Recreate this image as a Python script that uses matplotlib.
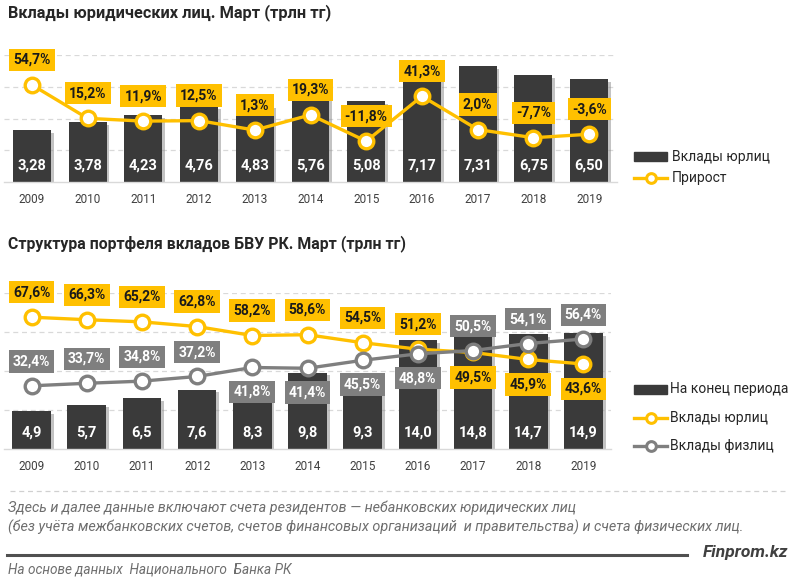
import matplotlib
matplotlib.use("Agg")
import matplotlib.pyplot as plt
from matplotlib.lines import Line2D
from matplotlib.patches import Rectangle
import matplotlib.patheffects as pe

plt.rcParams['font.family'] = ['Roboto', 'DejaVu Sans']

# ---------------- data ----------------
years = ['2009', '2010', '2011', '2012', '2013', '2014', '2015', '2016', '2017', '2018', '2019']
legal_deposits = [3.28, 3.78, 4.23, 4.76, 4.83, 5.76, 5.08, 7.17, 7.31, 6.75, 6.50]
growth = [54.7, 15.2, 11.9, 12.5, 1.3, 19.3, -11.8, 41.3, 2.0, -7.7, -3.6]
portfolio_total = [4.9, 5.7, 6.5, 7.6, 8.3, 9.8, 9.3, 14.0, 14.8, 14.7, 14.9]
share_legal = [67.6, 66.3, 65.2, 62.8, 58.2, 58.6, 54.5, 51.2, 49.5, 45.9, 43.6]
share_individual = [32.4, 33.7, 34.8, 37.2, 41.8, 41.4, 45.5, 48.8, 50.5, 54.1, 56.4]

# label placement (+1 above the point, -1 below)
legal_side = [1, 1, 1, 1, 1, 1, 1, 1, -1, -1, -1]
indiv_side = [1, 1, 1, 1, -1, -1, -1, -1, 1, 1, 1]

BAR = '#3A3A3A'
YEL = '#FFC000'
GRY = '#7F7F7F'
GRID = '#D9D9D9'
TXT = '#262626'

W, H = 800, 581
fig = plt.figure(figsize=(W / 100, H / 100), dpi=100)


def fx(x):
    return x / W


def fy(y):
    return 1 - y / H


def comma(v, nd):
    return f"{v:.{nd}f}".replace('.', ',')


def style_axes(ax, ymax, step):
    for s in ['top', 'left', 'right']:
        ax.spines[s].set_visible(False)
    ax.spines['bottom'].set_color(GRID)
    ax.spines['bottom'].set_linewidth(1.0)
    ax.set_yticks([])
    for yv in range(step, ymax + 1, step):
        ax.axhline(yv, color=GRID, lw=0.9, ls=(0, (4, 3)), zorder=0)
    ax.set_xticks(range(len(years)))
    ax.set_xticklabels(years, fontsize=8.5, color='#404040')
    ax.tick_params(axis='x', length=0, pad=8)
    ax.set_xlim(-0.5, len(years) - 0.5)
    ax.set_ylim(0, ymax)


bar_fx = [pe.withSimplePatchShadow(offset=(2, -2), shadow_rgbFace='#888888', alpha=0.5)]

# ---------------- top chart ----------------
ax1 = fig.add_axes([fx(4), fy(182), (617 - 4) / W, (182 - 55) / H])
style_axes(ax1, 8, 2)
x = list(range(len(years)))
ax1.bar(x, legal_deposits, width=0.68, color=BAR, zorder=2, path_effects=bar_fx)
for i, v in enumerate(legal_deposits):
    ax1.annotate(comma(v, 2), (i, 0), xytext=(0, 12), textcoords='offset points',
                 ha='center', va='center', color='white', fontsize=10.5, fontweight='bold', zorder=3)

ax1b = ax1.twinx()
ax1b.set_ylim(-60, 90)
ax1b.axis('off')
ax1b.plot(x, growth, color=YEL, lw=2.4, marker='o', ms=10.5, mfc='white', mec=YEL, mew=2.4, zorder=4)
for i, v in enumerate(growth):
    ax1b.annotate(comma(v, 1) + '%', (i, v), xytext=(0, 18), textcoords='offset points',
                  ha='center', va='center', color='#1a1a1a', fontsize=10, fontweight='bold',
                  bbox=dict(boxstyle='square,pad=0.3', fc=YEL, ec='none'),
                  zorder=5, annotation_clip=False)

# ---------------- bottom chart ----------------
ax2 = fig.add_axes([fx(4), fy(449), (611 - 4) / W, (449 - 293) / H])
style_axes(ax2, 20, 5)
ax2.bar(x, portfolio_total, width=0.7, color=BAR, zorder=2, path_effects=bar_fx)
for i, v in enumerate(portfolio_total):
    ax2.annotate(comma(v, 1), (i, 0), xytext=(0, 11.5), textcoords='offset points',
                 ha='center', va='center', color='white', fontsize=10.5, fontweight='bold', zorder=3)

ax2b = ax2.twinx()
ax2b.set_ylim(0, 80)
ax2b.axis('off')
ax2b.plot(x, share_legal, color=YEL, lw=2.4, marker='o', ms=10.5, mfc='white', mec=YEL, mew=2.4, zorder=4)
ax2b.plot(x, share_individual, color=GRY, lw=2.4, marker='o', ms=10.5, mfc='white', mec=GRY, mew=2.4, zorder=4)
for i, v in enumerate(share_legal):
    ax2b.annotate(comma(v, 1) + '%', (i, v), xytext=(0, 18 * legal_side[i]), textcoords='offset points',
                  ha='center', va='center', color='#1a1a1a', fontsize=10, fontweight='bold',
                  bbox=dict(boxstyle='square,pad=0.3', fc=YEL, ec='none'),
                  zorder=5, annotation_clip=False)
for i, v in enumerate(share_individual):
    ax2b.annotate(comma(v, 1) + '%', (i, v), xytext=(0, 17.5 * indiv_side[i]), textcoords='offset points',
                  ha='center', va='center', color='white', fontsize=10, fontweight='bold',
                  bbox=dict(boxstyle='square,pad=0.3', fc=GRY, ec='none'),
                  zorder=5, annotation_clip=False)

# ---------------- titles ----------------
fig.text(fx(8), fy(13), 'Вклады юридических лиц. Март (трлн тг)', ha='left', va='center',
         fontsize=11.8, fontweight='bold', color=TXT)
fig.text(fx(8), fy(244), 'Структура портфеля вкладов БВУ РК. Март (трлн тг)', ha='left', va='center',
         fontsize=11.4, fontweight='bold', color=TXT)

# ---------------- legends ----------------
def leg_rect(y):
    fig.add_artist(Rectangle((fx(634), fy(y + 4.5)), 33 / W, 9 / H, transform=fig.transFigure,
                             color=BAR, zorder=5))


def leg_line(y, c):
    fig.add_artist(Line2D([fx(634), fx(667)], [fy(y), fy(y)], transform=fig.transFigure,
                          color=c, lw=2.4, marker=None))
    fig.add_artist(Line2D([fx(650.5)], [fy(y)], transform=fig.transFigure, color=c,
                          marker='o', ms=7, mfc='white', mec=c, mew=2.2))


leg_rect(157)
fig.text(fx(672), fy(157), 'Вклады юрлиц', ha='left', va='center', fontsize=10, color=TXT)
leg_line(178, YEL)
fig.text(fx(672), fy(178), 'Прирост', ha='left', va='center', fontsize=10, color=TXT)

leg_rect(389)
fig.text(fx(670), fy(389), 'На конец периода', ha='left', va='center', fontsize=10, color=TXT)
leg_line(418, YEL)
fig.text(fx(670), fy(418), 'Вклады юрлиц', ha='left', va='center', fontsize=10, color=TXT)
leg_line(446, GRY)
fig.text(fx(670), fy(446), 'Вклады физлиц', ha='left', va='center', fontsize=10, color=TXT)

# ---------------- footer ----------------
fig.add_artist(Line2D([fx(10), fx(788)], [fy(491), fy(491)], transform=fig.transFigure,
                      color='#D0D0D0', lw=0.9, ls=(0, (4, 3))))
fig.text(fx(8), fy(508), 'Здесь и далее данные включают счета резидентов — небанковских юридических лиц',
         ha='left', va='center', fontsize=10.4, style='italic', color='#6E6E6E')
fig.text(fx(8), fy(527), '(без учёта межбанковских счетов, счетов финансовых организаций  и правительства) и счета физических лиц.',
         ha='left', va='center', fontsize=10.4, style='italic', color='#6E6E6E')
fig.add_artist(Line2D([fx(7), fx(687)], [fy(555), fy(555)], transform=fig.transFigure,
                      color='#505050', lw=2.2))
fig.text(fx(788), fy(553), 'Finprom.kz', ha='right', va='center', fontsize=12.5, style='italic',
         fontweight='bold', color='#404040')
fig.text(fx(8), fy(570), 'На основе данных  Национального  Банка РК', ha='left', va='center',
         fontsize=9.8, style='italic', color='#6E6E6E')

fig.savefig('out.png', dpi=100)
